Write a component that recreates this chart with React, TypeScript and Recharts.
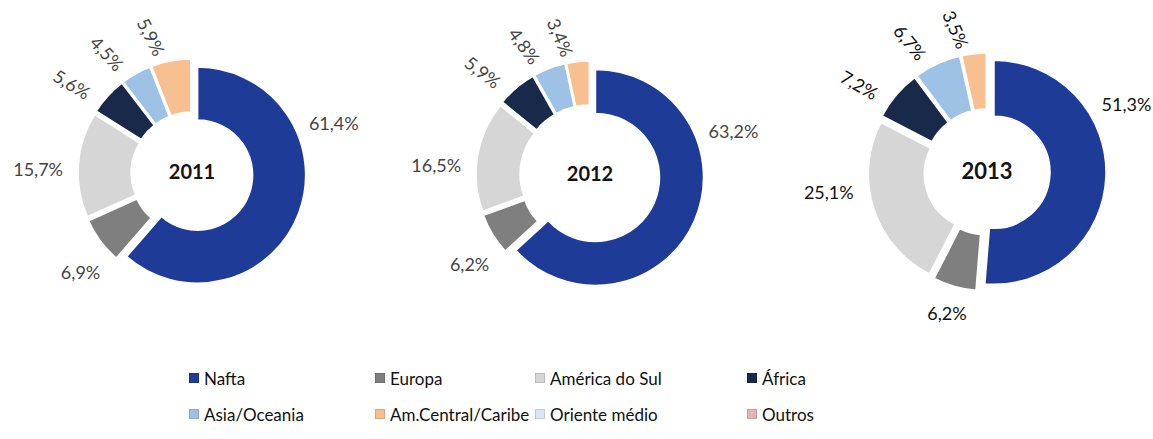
import { PieChart, Pie, Cell, Sector } from "recharts";

const regioes = [
  "Nafta",
  "Europa",
  "América do Sul",
  "África",
  "Asia/Oceania",
  "Am.Central/Caribe",
  "Oriente médio",
  "Outros",
];
const cores = ["#1e3b97", "#7f7f7f", "#d6d6d6", "#18294a", "#9ec2e6", "#f8c090", "#dbe8f5", "#e3b5b4"];

const anos = ["2011", "2012", "2013"];
const v2011 = [61.4, 6.9, 15.7, 5.6, 4.5, 5.9, 0, 0];
const v2012 = [63.2, 6.2, 16.5, 5.9, 4.8, 3.4, 0, 0];
const v2013 = [51.3, 6.2, 25.1, 7.2, 6.7, 3.5, 0, 0];
const valores = [v2011, v2012, v2013];

// geometria de cada rosca (centro, raios, explosão)
const rosca = [
  { cx: 192, cy: 173, ri: 55, re: 108, ex: 6, cor: "#454545", tam: 20 },
  { cx: 590, cy: 175, ri: 64, re: 108, ex: 6, cor: "#454545", tam: 20 },
  { cx: 987, cy: 172, ri: 56, re: 112, ex: 7, cor: "#111111", tam: 22 },
];

const RAD = Math.PI / 180;
const fonte = "Lato, 'Open Sans', sans-serif";

const fmt = (v: number) => v.toFixed(1).replace(".", ",") + "%";

function fatia(ex: number) {
  return (p: any) => {
    const dx = ex * Math.cos(-p.midAngle * RAD);
    const dy = ex * Math.sin(-p.midAngle * RAD);
    return (
      <Sector
        cx={p.cx + dx}
        cy={p.cy + dy}
        innerRadius={p.innerRadius}
        outerRadius={p.outerRadius}
        startAngle={p.startAngle}
        endAngle={p.endAngle}
        fill={p.fill}
        stroke="#ffffff"
        strokeWidth={1.5}
      />
    );
  };
}

function rotulo(ano: string, cor: string, ex: number, tam: number) {
  return (p: any) => {
    if (!p.value) return null;
    const txt = fmt(p.value);
    // ângulo no sentido horário a partir do topo
    let teta = ((((90 - p.midAngle) % 360) + 360) % 360);
    if (p.index === 0) teta = Math.max((p.startAngle - p.endAngle) * 0.32, 64);
    else if (teta > 240 && teta < 300) teta = teta + (270 - teta) * 0.6;
    else if (teta > 200 && teta <= 240) teta -= 5;
    const pequeno = teta > 295 && teta < 360;
    if (pequeno) teta -= 6;
    const ang = 90 - teta;
    const c = Math.cos(-ang * RAD);
    const s = Math.sin(-ang * RAD);
    const w = txt.length * 9.5;
    const meia = p.index === 0 ? w * 0.4 : w / 2;
    const r = p.outerRadius + ex + 16 + Math.abs(c) * meia + Math.abs(s) * 7;
    const x = p.cx + r * c;
    const y = p.cy + r * s;
    const t = teta - 360;
    const rot = pequeno ? 72 + 0.85 * (t + 6) : 0;
    return (
      <g key={"l" + p.index}>
        <text
          x={x}
          y={y}
          textAnchor="middle"
          dominantBaseline="central"
          fill={cor}
          fontSize={18}
          fontFamily={fonte}
          transform={rot ? `rotate(${rot} ${x} ${y})` : undefined}
        >
          {txt}
        </text>
        {p.index === 0 && (
          <text
            x={p.cx}
            y={p.cy - 2}
            textAnchor="middle"
            dominantBaseline="central"
            fill="#141414"
            fontSize={tam}
            fontWeight="bold"
            fontFamily={fonte}
          >
            {ano}
          </text>
        )}
      </g>
    );
  };
}

export default function App() {
  return (
    <div style={{ position: "absolute", left: 0, top: 0, width: 1153, height: 439, background: "#fff" }}>
      <PieChart width={1153} height={360} margin={{ top: 0, right: 0, bottom: 0, left: 0 }}>
        {anos.map((ano, k) => {
          const g = rosca[k];
          const dados = regioes.map((nome, i) => ({ nome, valor: valores[k][i] }));
          return (
            <Pie
              key={ano}
              data={dados}
              dataKey="valor"
              nameKey="nome"
              cx={g.cx}
              cy={g.cy}
              innerRadius={g.ri}
              outerRadius={g.re}
              startAngle={90}
              endAngle={-270}
              isAnimationActive={false}
              shape={fatia(g.ex)}
              label={rotulo(ano, g.cor, g.ex, g.tam)}
              labelLine={false}
              stroke="#ffffff"
            >
              {dados.map((d, i) => (
                <Cell key={d.nome} fill={cores[i]} />
              ))}
            </Pie>
          );
        })}
      </PieChart>
      <div
        style={{
          position: "absolute",
          left: 189,
          top: 366,
          display: "grid",
          gridTemplateColumns: "186px 160px 212px 120px",
          rowGap: 12,
          fontFamily: fonte,
          fontSize: 17,
          color: "#111",
        }}
      >
        {regioes.map((nome, i) => (
          <div key={nome} style={{ display: "flex", alignItems: "center", height: 24, whiteSpace: "nowrap" }}>
            <span
              style={{
                display: "inline-block",
                width: 10,
                height: 10,
                marginRight: 5,
                background: cores[i],
                boxShadow: "inset 0 0 0 1px rgba(0,0,0,0.12)",
              }}
            />
            {nome}
          </div>
        ))}
      </div>
    </div>
  );
}
